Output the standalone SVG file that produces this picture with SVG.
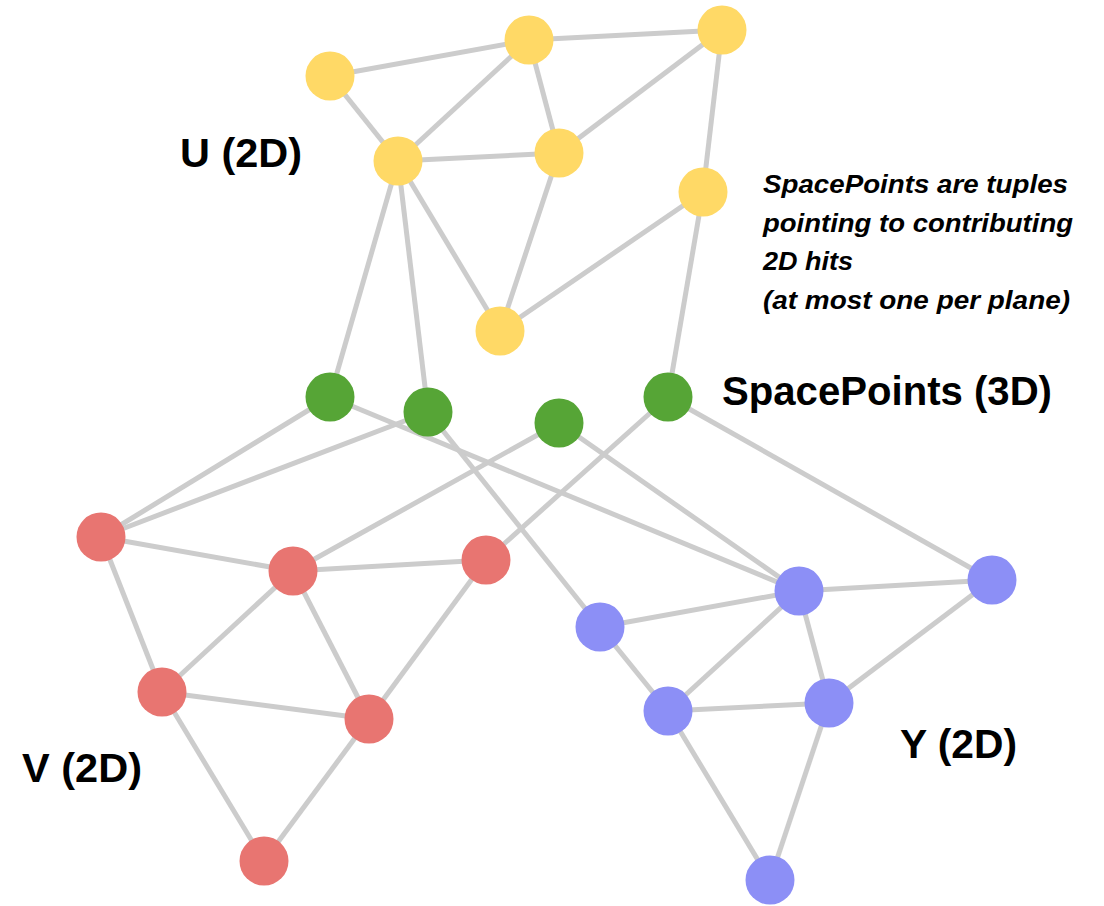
<svg xmlns="http://www.w3.org/2000/svg" width="1104" height="906" viewBox="0 0 1104 906">
  <style>
    .edge { stroke: #cccccc; stroke-width: 5; stroke-linecap: butt; fill: none; }
    .u { fill: #ffd966; }
    .sp { fill: #56a536; }
    .v { fill: #e87571; }
    .y { fill: #8c8ff6; }
    .label { font-family: "Liberation Sans", Arial, sans-serif; font-weight: bold; font-size: 41px; fill: #000; }
    .note { font-family: "Liberation Sans", Arial, sans-serif; font-weight: bold; font-style: italic; font-size: 25px; fill: #000; }
  </style>
  <rect width="1104" height="906" fill="#ffffff"/>

  <g id="connectors">
    <!-- U plane -->
    <line class="edge" x1="330" y1="76" x2="529" y2="40"/>
    <line class="edge" x1="529" y1="40" x2="722" y2="30"/>
    <line class="edge" x1="330" y1="76" x2="398" y2="161"/>
    <line class="edge" x1="529" y1="40" x2="398" y2="161"/>
    <line class="edge" x1="529" y1="40" x2="559" y2="153"/>
    <line class="edge" x1="398" y1="161" x2="559" y2="153"/>
    <line class="edge" x1="722" y1="30" x2="559" y2="153"/>
    <line class="edge" x1="722" y1="30" x2="703" y2="192"/>
    <line class="edge" x1="398" y1="161" x2="500" y2="331"/>
    <line class="edge" x1="559" y1="153" x2="500" y2="331"/>
    <line class="edge" x1="703" y1="192" x2="500" y2="331"/>
    <!-- U to SpacePoints -->
    <line class="edge" x1="398" y1="161" x2="330" y2="397"/>
    <line class="edge" x1="398" y1="161" x2="428" y2="412"/>
    <line class="edge" x1="703" y1="192" x2="668" y2="397"/>
    <!-- SpacePoints to V -->
    <line class="edge" x1="330" y1="397" x2="101" y2="537"/>
    <line class="edge" x1="428" y1="412" x2="101" y2="537"/>
    <line class="edge" x1="559" y1="423" x2="293" y2="571"/>
    <line class="edge" x1="668" y1="397" x2="486" y2="560"/>
    <!-- SpacePoints to Y -->
    <line class="edge" x1="330" y1="397" x2="799" y2="591"/>
    <line class="edge" x1="428" y1="412" x2="600" y2="627"/>
    <line class="edge" x1="559" y1="423" x2="799" y2="591"/>
    <line class="edge" x1="668" y1="397" x2="992" y2="580"/>
    <!-- V plane -->
    <line class="edge" x1="101" y1="537" x2="293" y2="571"/>
    <line class="edge" x1="101" y1="537" x2="162" y2="692"/>
    <line class="edge" x1="293" y1="571" x2="486" y2="560"/>
    <line class="edge" x1="293" y1="571" x2="162" y2="692"/>
    <line class="edge" x1="293" y1="571" x2="369" y2="719"/>
    <line class="edge" x1="486" y1="560" x2="369" y2="719"/>
    <line class="edge" x1="162" y1="692" x2="369" y2="719"/>
    <line class="edge" x1="162" y1="692" x2="264" y2="861"/>
    <line class="edge" x1="369" y1="719" x2="264" y2="861"/>
    <!-- Y plane -->
    <line class="edge" x1="600" y1="627" x2="799" y2="591"/>
    <line class="edge" x1="600" y1="627" x2="668" y2="711"/>
    <line class="edge" x1="799" y1="591" x2="992" y2="580"/>
    <line class="edge" x1="799" y1="591" x2="668" y2="711"/>
    <line class="edge" x1="799" y1="591" x2="829" y2="703"/>
    <line class="edge" x1="668" y1="711" x2="829" y2="703"/>
    <line class="edge" x1="992" y1="580" x2="829" y2="703"/>
    <line class="edge" x1="668" y1="711" x2="770" y2="880"/>
    <line class="edge" x1="829" y1="703" x2="770" y2="880"/>
  </g>

  <!-- U plane hits -->
  <g id="u1"><circle class="u" cx="330" cy="76" r="24.5"/></g>
  <g id="u2"><circle class="u" cx="529" cy="40" r="24.5"/></g>
  <g id="u3"><circle class="u" cx="722" cy="30" r="24.5"/></g>
  <g id="u4"><circle class="u" cx="398" cy="161" r="24.5"/></g>
  <g id="u5"><circle class="u" cx="559" cy="153" r="24.5"/></g>
  <g id="u6"><circle class="u" cx="703" cy="192" r="24.5"/></g>
  <g id="u7"><circle class="u" cx="500" cy="331" r="24.5"/></g>

  <!-- SpacePoints -->
  <g id="sp1"><circle class="sp" cx="330" cy="397" r="24.5"/></g>
  <g id="sp2"><circle class="sp" cx="428" cy="412" r="24.5"/></g>
  <g id="sp3"><circle class="sp" cx="559" cy="423" r="24.5"/></g>
  <g id="sp4"><circle class="sp" cx="668" cy="397" r="24.5"/></g>

  <!-- V plane hits -->
  <g id="v1"><circle class="v" cx="101" cy="537" r="24.5"/></g>
  <g id="v2"><circle class="v" cx="293" cy="571" r="24.5"/></g>
  <g id="v3"><circle class="v" cx="486" cy="560" r="24.5"/></g>
  <g id="v4"><circle class="v" cx="162" cy="692" r="24.5"/></g>
  <g id="v5"><circle class="v" cx="369" cy="719" r="24.5"/></g>
  <g id="v6"><circle class="v" cx="264" cy="861" r="24.5"/></g>

  <!-- Y plane hits -->
  <g id="y1"><circle class="y" cx="600" cy="627" r="24.5"/></g>
  <g id="y2"><circle class="y" cx="799" cy="591" r="24.5"/></g>
  <g id="y3"><circle class="y" cx="992" cy="580" r="24.5"/></g>
  <g id="y4"><circle class="y" cx="668" cy="711" r="24.5"/></g>
  <g id="y5"><circle class="y" cx="829" cy="703" r="24.5"/></g>
  <g id="y6"><circle class="y" cx="770" cy="880" r="24.5"/></g>

  <!-- Plane labels -->
  <g id="labels">
    <text class="label" x="180" y="167" textLength="122" lengthAdjust="spacingAndGlyphs">U (2D)</text>
    <text class="label" x="22" y="782" textLength="120" lengthAdjust="spacingAndGlyphs">V (2D)</text>
    <text class="label" x="900" y="758" textLength="117" lengthAdjust="spacingAndGlyphs">Y (2D)</text>
    <text class="label" x="722" y="405" textLength="330" lengthAdjust="spacingAndGlyphs">SpacePoints (3D)</text>
  </g>

  <g id="note">
    <text class="note" x="763" y="193" textLength="305" lengthAdjust="spacingAndGlyphs">SpacePoints are tuples</text>
    <text class="note" x="763" y="232" textLength="310" lengthAdjust="spacingAndGlyphs">pointing to contributing</text>
    <text class="note" x="763" y="270" textLength="90" lengthAdjust="spacingAndGlyphs">2D hits</text>
    <text class="note" x="763" y="309" textLength="307" lengthAdjust="spacingAndGlyphs">(at most one per plane)</text>
  </g>
</svg>
